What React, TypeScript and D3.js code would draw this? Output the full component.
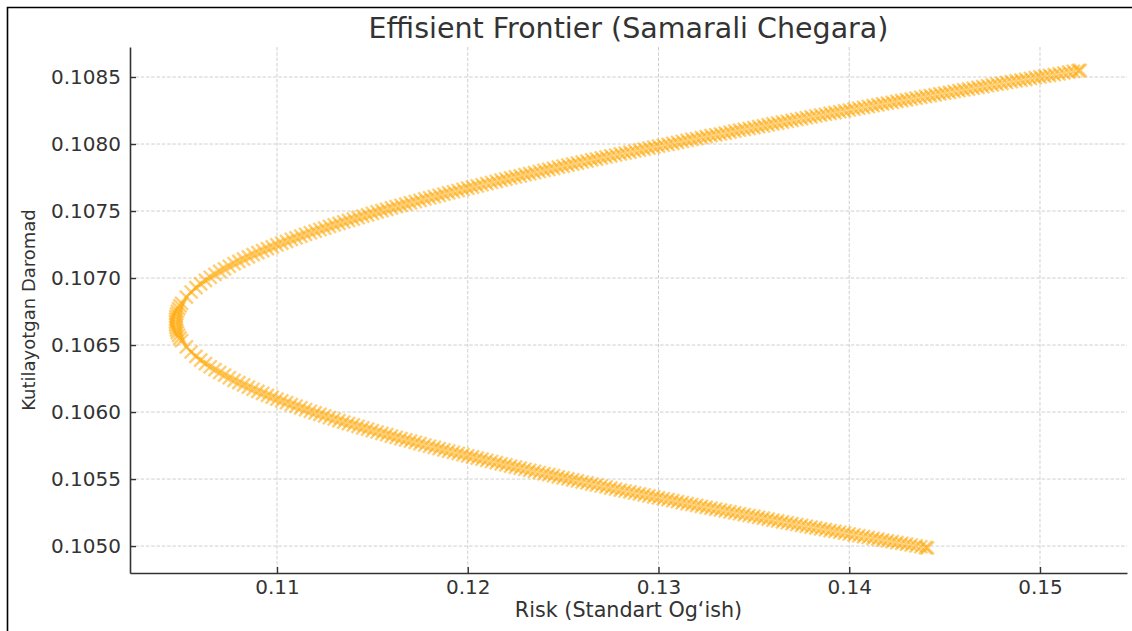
import { useEffect, useRef } from "react";
import * as d3 from "d3";

const WIDTH = 1132;
const HEIGHT = 631;
const MARGIN = { top: 47, right: 5, bottom: 58, left: 130 };
const FONT = "DejaVu Sans, Verdana, sans-serif";

const TITLE = "Effisient Frontier (Samarali Chegara)";
const X_LABEL = "Risk (Standart Og‘ish)";
const Y_LABEL = "Kutilayotgan Daromad";

const xTicks = [0.11, 0.12, 0.13, 0.14, 0.15];
const yTicks = [0.105, 0.1055, 0.106, 0.1065, 0.107, 0.1075, 0.108, 0.1085];
const xDomain = [0.102294, 0.154561];
const yDomain = [0.104799, 0.108724];

// upper half of the frontier, from the tip to the top right end
const upperRisk = [
  0.104679, 0.104686, 0.104705, 0.104738, 0.104784, 0.104844, 0.104916,
  0.105, 0.10525, 0.1055, 0.10575, 0.106, 0.10625, 0.1065, 0.10675, 0.107, 0.10725,
  0.1075, 0.10775, 0.108, 0.10825, 0.1085, 0.10875, 0.109, 0.10925, 0.1095, 0.10975,
  0.11, 0.11025, 0.1105, 0.11075, 0.111, 0.11125, 0.1115, 0.11175, 0.112, 0.11225,
  0.1125, 0.11275, 0.113, 0.11325, 0.1135, 0.11375, 0.114, 0.11425, 0.1145, 0.11475,
  0.115,
  0.1155, 0.116, 0.1165, 0.117, 0.1175, 0.118, 0.1185, 0.119, 0.1195, 0.12,
  0.1205, 0.121, 0.1215, 0.122, 0.1225, 0.123, 0.1235, 0.124, 0.1245, 0.125,
  0.1255, 0.126, 0.1265, 0.127, 0.1275, 0.128, 0.1285, 0.129, 0.1295, 0.13,
  0.1305, 0.131, 0.1315, 0.132, 0.1325, 0.133, 0.1335, 0.134, 0.1345, 0.135,
  0.1355, 0.136, 0.1365, 0.137, 0.1375, 0.138, 0.1385, 0.139, 0.1395, 0.14,
  0.1405, 0.141, 0.1415, 0.142, 0.1425, 0.143, 0.1435, 0.144, 0.1445, 0.145,
  0.1455, 0.146, 0.1465, 0.147, 0.1475, 0.148, 0.1485, 0.149, 0.1495, 0.15,
  0.1505, 0.151, 0.1515, 0.152, 0.1521,
];
const upperReturn = [
  0.106672, 0.106692, 0.106712, 0.106732, 0.106752, 0.106772, 0.106792,
  0.106812, 0.106858, 0.106896, 0.106928, 0.106956, 0.106982, 0.107006, 0.107028, 0.107049, 0.107069,
  0.107088, 0.107107, 0.107124, 0.107141, 0.107158, 0.107174, 0.107189, 0.107204, 0.107219, 0.107233,
  0.107247, 0.107261, 0.107274, 0.107288, 0.1073, 0.107313, 0.107326, 0.107338, 0.10735, 0.107362,
  0.107373, 0.107385, 0.107396, 0.107408, 0.107419, 0.10743, 0.10744, 0.107451, 0.107462, 0.107472,
  0.107482,
  0.107503, 0.107523, 0.107542, 0.107561, 0.10758, 0.107599, 0.107617, 0.107635, 0.107653, 0.107671,
  0.107688, 0.107705, 0.107722, 0.107738, 0.107755, 0.107771, 0.107787, 0.107803, 0.107819, 0.107835,
  0.10785, 0.107866, 0.107881, 0.107896, 0.107911, 0.107926, 0.10794, 0.107955, 0.10797, 0.107984,
  0.107998, 0.108013, 0.108027, 0.108041, 0.108055, 0.108068, 0.108082, 0.108096, 0.108109, 0.108123,
  0.108136, 0.10815, 0.108163, 0.108176, 0.108189, 0.108203, 0.108216, 0.108229, 0.108241, 0.108254,
  0.108267, 0.10828, 0.108292, 0.108305, 0.108318, 0.10833, 0.108343, 0.108355, 0.108367, 0.10838,
  0.108392, 0.108404, 0.108416, 0.108429, 0.108441, 0.108453, 0.108465, 0.108477, 0.108489, 0.108501,
  0.108512, 0.108524, 0.108536, 0.108548, 0.10855,
];
// extra portfolios read between the ones above (upper half)
const upperRiskB = [
  0.11525, 0.11575, 0.11625, 0.11675, 0.11725, 0.11775, 0.11825, 0.11875, 0.11925, 0.11975,
  0.12025, 0.12075, 0.12125, 0.12175, 0.12225, 0.12275, 0.12325, 0.12375, 0.12425, 0.12475,
  0.12525, 0.12575, 0.12625, 0.12675, 0.12725, 0.12775, 0.12825, 0.12875, 0.12925, 0.12975,
  0.13025, 0.13075, 0.13125, 0.13175, 0.13225, 0.13275, 0.13325, 0.13375, 0.13425, 0.13475,
  0.13525, 0.13575, 0.13625, 0.13675, 0.13725, 0.13775, 0.13825, 0.13875, 0.13925, 0.13975,
  0.14025, 0.14075, 0.14125, 0.14175, 0.14225, 0.14275, 0.14325, 0.14375, 0.14425, 0.14475,
  0.14525, 0.14575, 0.14625, 0.14675, 0.14725, 0.14775, 0.14825, 0.14875, 0.14925, 0.14975,
  0.15025, 0.15075, 0.15125, 0.15175,
];
const upperReturnB = [
  0.107493, 0.107513, 0.107533, 0.107552, 0.107571, 0.10759, 0.107608, 0.107626, 0.107644, 0.107662,
  0.107679, 0.107696, 0.107713, 0.10773, 0.107747, 0.107763, 0.107779, 0.107795, 0.107811, 0.107827,
  0.107843, 0.107858, 0.107873, 0.107888, 0.107903, 0.107918, 0.107933, 0.107948, 0.107962, 0.107977,
  0.107991, 0.108005, 0.10802, 0.108034, 0.108048, 0.108062, 0.108075, 0.108089, 0.108103, 0.108116,
  0.10813, 0.108143, 0.108156, 0.10817, 0.108183, 0.108196, 0.108209, 0.108222, 0.108235, 0.108248,
  0.108261, 0.108273, 0.108286, 0.108299, 0.108311, 0.108324, 0.108336, 0.108349, 0.108361, 0.108374,
  0.108386, 0.108398, 0.10841, 0.108423, 0.108435, 0.108447, 0.108459, 0.108471, 0.108483, 0.108495,
  0.108506, 0.108518, 0.10853, 0.108542,
];

// lower half, from just under the tip to the bottom end
const lowerRisk = [
  0.104686, 0.104705, 0.104738, 0.104784, 0.104844, 0.104916,
  0.105, 0.10525, 0.1055, 0.10575, 0.106, 0.10625, 0.1065, 0.10675, 0.107, 0.10725,
  0.1075, 0.10775, 0.108, 0.10825, 0.1085, 0.10875, 0.109, 0.10925, 0.1095, 0.10975,
  0.11, 0.11025, 0.1105, 0.11075, 0.111, 0.11125, 0.1115, 0.11175, 0.112, 0.11225,
  0.1125, 0.11275, 0.113, 0.11325, 0.1135, 0.11375, 0.114, 0.11425, 0.1145, 0.11475,
  0.115,
  0.1155, 0.116, 0.1165, 0.117, 0.1175, 0.118, 0.1185, 0.119, 0.1195, 0.12,
  0.1205, 0.121, 0.1215, 0.122, 0.1225, 0.123, 0.1235, 0.124, 0.1245, 0.125,
  0.1255, 0.126, 0.1265, 0.127, 0.1275, 0.128, 0.1285, 0.129, 0.1295, 0.13,
  0.1305, 0.131, 0.1315, 0.132, 0.1325, 0.133, 0.1335, 0.134, 0.1345, 0.135,
  0.1355, 0.136, 0.1365, 0.137, 0.1375, 0.138, 0.1385, 0.139, 0.1395, 0.14,
  0.1405, 0.141, 0.1415, 0.142, 0.1425, 0.143, 0.1435, 0.144, 0.1441,
];
const lowerReturn = [
  0.106652, 0.106632, 0.106612, 0.106592, 0.106572, 0.106552,
  0.106532, 0.106486, 0.106448, 0.106416, 0.106388, 0.106362, 0.106338, 0.106316, 0.106295, 0.106275,
  0.106256, 0.106237, 0.10622, 0.106203, 0.106186, 0.10617, 0.106155, 0.10614, 0.106125, 0.106111,
  0.106097, 0.106083, 0.10607, 0.106056, 0.106044, 0.106031, 0.106018, 0.106006, 0.105994, 0.105982,
  0.105971, 0.105959, 0.105948, 0.105936, 0.105925, 0.105914, 0.105904, 0.105893, 0.105882, 0.105872,
  0.105862,
  0.105841, 0.105821, 0.105802, 0.105783, 0.105764, 0.105745, 0.105727, 0.105709, 0.105691, 0.105673,
  0.105656, 0.105639, 0.105622, 0.105606, 0.105589, 0.105573, 0.105557, 0.105541, 0.105525, 0.105509,
  0.105494, 0.105478, 0.105463, 0.105448, 0.105433, 0.105418, 0.105404, 0.105389, 0.105374, 0.10536,
  0.105346, 0.105331, 0.105317, 0.105303, 0.105289, 0.105276, 0.105262, 0.105248, 0.105235, 0.105221,
  0.105208, 0.105194, 0.105181, 0.105168, 0.105155, 0.105141, 0.105128, 0.105115, 0.105103, 0.10509,
  0.105077, 0.105064, 0.105052, 0.105039, 0.105026, 0.105014, 0.105001, 0.104989, 0.104987,
];
const lowerRiskB = [
  0.11525, 0.11575, 0.11625, 0.11675, 0.11725, 0.11775, 0.11825, 0.11875, 0.11925, 0.11975,
  0.12025, 0.12075, 0.12125, 0.12175, 0.12225, 0.12275, 0.12325, 0.12375, 0.12425, 0.12475,
  0.12525, 0.12575, 0.12625, 0.12675, 0.12725, 0.12775, 0.12825, 0.12875, 0.12925, 0.12975,
  0.13025, 0.13075, 0.13125, 0.13175, 0.13225, 0.13275, 0.13325, 0.13375, 0.13425, 0.13475,
  0.13525, 0.13575, 0.13625, 0.13675, 0.13725, 0.13775, 0.13825, 0.13875, 0.13925, 0.13975,
  0.14025, 0.14075, 0.14125, 0.14175, 0.14225, 0.14275, 0.14325, 0.14375,
];
const lowerReturnB = [
  0.105851, 0.105831, 0.105811, 0.105792, 0.105773, 0.105754, 0.105736, 0.105718, 0.1057, 0.105682,
  0.105665, 0.105648, 0.105631, 0.105614, 0.105597, 0.105581, 0.105565, 0.105549, 0.105533, 0.105517,
  0.105501, 0.105486, 0.105471, 0.105456, 0.105441, 0.105426, 0.105411, 0.105396, 0.105382, 0.105367,
  0.105353, 0.105339, 0.105324, 0.10531, 0.105296, 0.105283, 0.105269, 0.105255, 0.105241, 0.105228,
  0.105214, 0.105201, 0.105188, 0.105174, 0.105161, 0.105148, 0.105135, 0.105122, 0.105109, 0.105096,
  0.105083, 0.105071, 0.105058, 0.105045, 0.105033, 0.10502, 0.105008, 0.104995,
];

const zip = (risk: number[], ret: number[]) =>
  risk.slice(0, Math.min(risk.length, ret.length)).map((r, i) => ({ risk: r, ret: ret[i] }));

const points = [
  ...zip(upperRisk, upperReturn),
  ...zip(upperRiskB, upperReturnB),
  ...zip(lowerRisk, lowerReturn),
  ...zip(lowerRiskB, lowerReturnB),
];

const App = () => {
  const xAxisRef = useRef<SVGGElement>(null);
  const yAxisRef = useRef<SVGGElement>(null);

  const x = d3.scaleLinear().domain(xDomain).range([MARGIN.left, WIDTH - MARGIN.right]);
  const y = d3.scaleLinear().domain(yDomain).range([HEIGHT - MARGIN.bottom, MARGIN.top]);

  const marker = d3.symbol().type(d3.symbolX).size(112)();

  useEffect(() => {
    const xg = d3.select(xAxisRef.current);
    xg.selectAll("*").remove();
    xg.call(
      d3.axisBottom(x).tickValues(xTicks).tickFormat(d3.format(".2f")).tickSizeInner(-6).tickSizeOuter(0).tickPadding(7)
    );
    const yg = d3.select(yAxisRef.current);
    yg.selectAll("*").remove();
    yg.call(
      d3.axisLeft(y).tickValues(yTicks).tickFormat(d3.format(".4f")).tickSizeInner(-6).tickSizeOuter(0).tickPadding(9)
    );
    [xg, yg].forEach((g) => {
      g.attr("font-family", FONT).attr("font-size", 20);
      g.select(".domain").attr("stroke", "#333").attr("stroke-width", 1.6);
      g.selectAll(".tick line").attr("stroke", "#333").attr("stroke-width", 1.4);
      g.selectAll(".tick text").attr("fill", "#333");
    });
  }, []);

  return (
    <svg width={WIDTH} height={HEIGHT} style={{ position: "absolute", left: 0, top: 0, background: "#fff" }}>
      <rect x={0} y={0} width={WIDTH} height={HEIGHT} fill="#fff" />
      <path d={`M7.5,${HEIGHT}V7.5H${WIDTH}`} fill="none" stroke="#000" strokeWidth={1.6} />

      {/* grid */}
      <g stroke="#cfcfcf" strokeWidth={1} strokeDasharray="3.5,1.8">
        {xTicks.map((t) => (
          <line key={"gx" + t} x1={x(t)} x2={x(t)} y1={MARGIN.top} y2={HEIGHT - MARGIN.bottom} />
        ))}
        {yTicks.map((t) => (
          <line key={"gy" + t} x1={MARGIN.left} x2={WIDTH - MARGIN.right} y1={y(t)} y2={y(t)} />
        ))}
      </g>

      {/* frontier points */}
      <g fill="none" stroke="#FFA500" strokeWidth={2.4} strokeOpacity={0.55}>
        {points.map((p, i) => (
          <path key={i} d={marker || ""} transform={`translate(${x(p.risk)},${y(p.ret)})`} />
        ))}
      </g>

      <g ref={xAxisRef} transform={`translate(0,${HEIGHT - MARGIN.bottom})`} />
      <g ref={yAxisRef} transform={`translate(${MARGIN.left},0)`} />

      <text x={(MARGIN.left + WIDTH - MARGIN.right) / 2} y={38} textAnchor="middle" fontFamily={FONT} fontSize={28.5} fill="#333">
        {TITLE}
      </text>
      <text x={(MARGIN.left + WIDTH - MARGIN.right) / 2} y={617} textAnchor="middle" fontFamily={FONT} fontSize={20.7} fill="#333">
        {X_LABEL}
      </text>
      <text
        transform={`translate(35,${(MARGIN.top + HEIGHT - MARGIN.bottom) / 2}) rotate(-90)`}
        textAnchor="middle"
        fontFamily={FONT}
        fontSize={18}
        fill="#333"
      >
        {Y_LABEL}
      </text>
    </svg>
  );
};

export default App;
